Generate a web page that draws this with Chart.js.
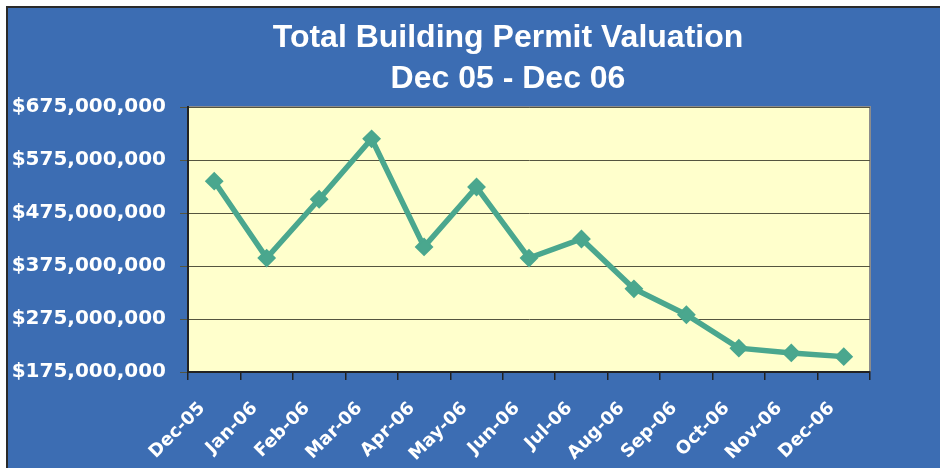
<!DOCTYPE html>
<html>
<head>
<meta charset="utf-8">
<script src="https://cdn.jsdelivr.net/npm/chart.js@4"></script>
<style>
  html, body { margin: 0; padding: 0; background: #fff; overflow: hidden; }
  #wrap {
    position: absolute; left: 6px; top: 6px;
    width: 934px; height: 462px;
    border-top: 2px solid #2a2a2a; border-left: 2px solid #2a2a2a;
    background: #3C6DB3; overflow: hidden;
  }
  #chart { display: block; }
</style>
</head>
<body>
<div id="wrap"><canvas id="chart" width="932" height="460"></canvas></div>
<script>
// chart data
const months = ['Dec-05', 'Jan-06', 'Feb-06', 'Mar-06', 'Apr-06', 'May-06', 'Jun-06',
                'Jul-06', 'Aug-06', 'Sep-06', 'Oct-06', 'Nov-06', 'Dec-06'];
const valuation = [535000000, 390000000, 501000000, 615000000, 411000000, 524000000, 390000000,
                   426000000, 332000000, 283000000, 220000000, 211000000, 204000000];
const titleLines = ['Total Building Permit Valuation', 'Dec 05 - Dec 06'];
const yMin = 175000000, yMax = 675000000, yStep = 100000000;

// yellow plot area with grey top/right edge
const plotBg = {
    id: 'plotBg',
    beforeDraw(chart) {
        const { ctx, chartArea: a } = chart;
        ctx.save();
        ctx.fillStyle = '#FFFFCC';
        ctx.fillRect(a.left, a.top, a.right - a.left, a.bottom - a.top);
        ctx.strokeStyle = '#8c8c8c';
        ctx.lineWidth = 2;
        ctx.beginPath();
        ctx.moveTo(a.left, a.top);
        ctx.lineTo(a.right, a.top);
        ctx.lineTo(a.right, a.bottom);
        ctx.stroke();
        ctx.restore();
    }
};

// the original title sits a bit left of the plot centre, so draw it by hand
const titleText = {
    id: 'titleText',
    afterDraw(chart) {
        const ctx = chart.ctx;
        ctx.save();
        ctx.fillStyle = '#ffffff';
        ctx.font = 'bold 32px "Liberation Sans", Arial, sans-serif';
        ctx.textAlign = 'center';
        ctx.textBaseline = 'middle';
        titleLines.forEach((t, i) => ctx.fillText(t, 500, 30 + i * 41));
        ctx.restore();
    }
};

const ctx = document.getElementById('chart').getContext('2d');
new Chart(ctx, {
    type: 'line',
    data: {
        labels: months,
        datasets: [{
            data: valuation,
            borderColor: '#4AA78E',
            backgroundColor: '#4AA78E',
            borderWidth: 5.5,
            pointStyle: 'rectRot',
            pointRadius: 8,
            pointBorderWidth: 2,
            tension: 0
        }]
    },
    options: {
        responsive: false,
        animation: false,
        devicePixelRatio: 1,
        layout: { padding: { left: 4, right: 70, top: 99, bottom: 0 } },
        plugins: {
            legend: { display: false },
            tooltip: { enabled: false },
            title: { display: false }
        },
        scales: {
            x: {
                offset: true,
                afterFit: s => { s.height = 96; },
                grid: { offset: true, drawOnChartArea: false, drawTicks: true, tickLength: 8, color: '#222222', lineWidth: 1.5 },
                border: { color: '#222222', width: 2 },
                ticks: {
                    color: '#ffffff',
                    minRotation: 45, maxRotation: 45,
                    padding: 18,
                    labelOffset: -12,
                    font: { family: '"DejaVu Sans", sans-serif', size: 18, weight: 'bold' }
                }
            },
            y: {
                min: yMin,
                max: yMax,
                afterFit: s => { s.width = 176; },
                grid: { color: '#55553f', lineWidth: 1, tickLength: 8 },
                border: { color: '#222222', width: 2 },
                ticks: {
                    stepSize: yStep,
                    color: '#ffffff',
                    padding: 14,
                    font: { family: '"DejaVu Sans", sans-serif', size: 20, weight: 'bold' },
                    callback: v => '$' + v.toLocaleString('en-US')
                }
            }
        }
    },
    plugins: [plotBg, titleText]
});
</script>
</body>
</html>
